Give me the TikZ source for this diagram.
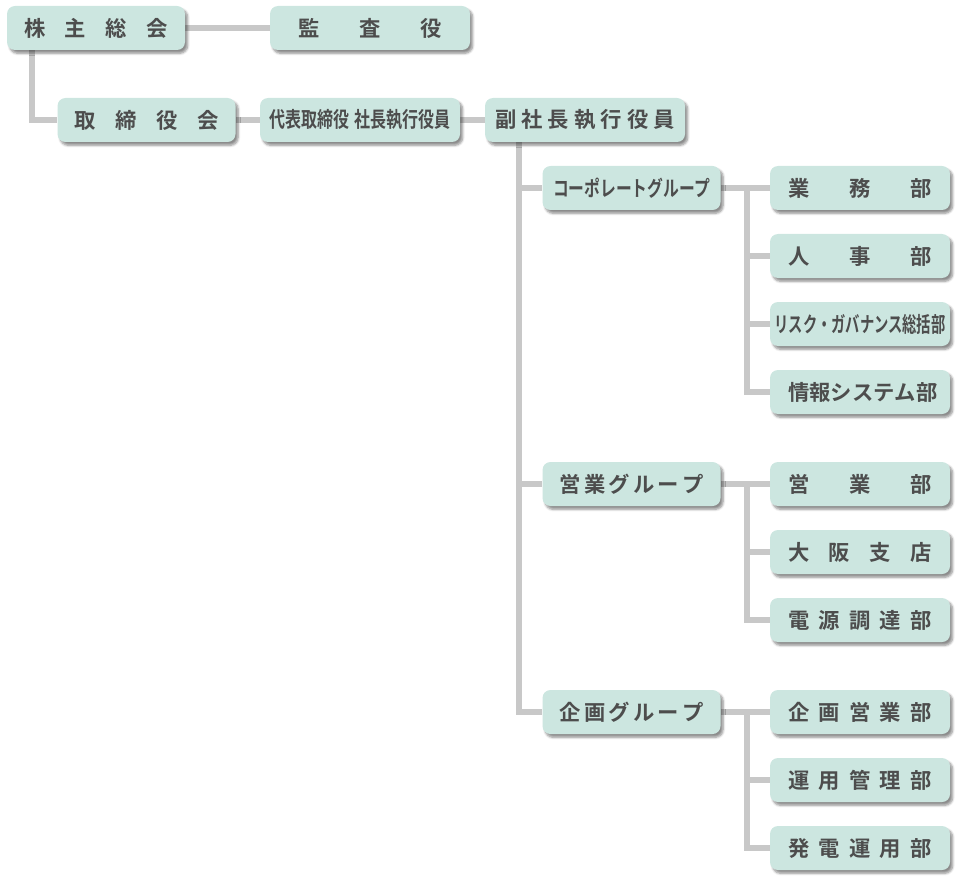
\documentclass[tikz,border=0pt]{standalone}
\usepackage{fontspec}
\usepackage{graphicx}
\usepackage{xcolor}
\usepackage{tikz}
\usetikzlibrary{positioning,calc,backgrounds,shadows.blur}
\newfontfamily\jp{Noto Sans CJK JP}[BoldFont={Noto Sans CJK JP Bold}]
\definecolor{caja}{RGB}{204,230,224}
\definecolor{linea}{RGB}{200,200,200}
\definecolor{texto}{RGB}{77,77,77}
% spread letters over a fixed width / condense long labels
\newcommand{\spread}[2][108pt]{\makebox[#1][s]{#2}}
\newcommand{\narrow}[2][0.8]{\scalebox{#1}[1]{#2}}

\begin{document}
\begin{tikzpicture}[
  x=0.75pt, y=-0.75pt,
  font=\jp\bfseries\fontsize{16}{19}\selectfont,
  caja/.style={fill=caja, text=texto, rounded corners=6pt,
               minimum width=133.5pt, minimum height=33pt, inner sep=0pt,
               blur shadow={shadow xshift=2pt, shadow yshift=-2.5pt,
                            shadow blur steps=6, shadow opacity=45}},
  ancha/.style={caja, minimum width=150pt},
  depto/.style={caja, minimum width=135pt},
  enlace/.style={draw=linea, line width=4.5pt},
]
\useasboundingbox (0,0) rectangle (968,888);
% ---- top ------------------------------------------------------------------
\node[caja]  (kabu)   at (96,28)   {\spread{株\hfil 主\hfil 総\hfil 会}};
\node[ancha] (kansa)  at (370,28)  {\spread{監\hfil 査\hfil 役}};
\node[caja]  (tori)   at (146.5,120) {\spread{取\hfil 締\hfil 役\hfil 会}};
\node[ancha] (daihyo) at (360,120)
  {\narrow[0.75]{代表取締役\hspace{5pt}社長執行役員}};
\node[ancha] (fuku)   at (585,120)
  {\spread[135pt]{副\hfil 社\hfil 長\hfil 執\hfil 行\hfil 役\hfil 員}};
% ---- groups ---------------------------------------------------------------
\node[caja] (corp)  at (631.5,188) {\narrow[0.74]{コーポレートグループ}};
\node[caja] (eigyo) at (631.5,484) {\spread{営\hfil 業\hfil グ\hfil ル\hfil ー\hfil プ}};
\node[caja] (kikak) at (631.5,712) {\spread{企\hfil 画\hfil グ\hfil ル\hfil ー\hfil プ}};
% ---- departments ----------------------------------------------------------
\foreach \n/\y/\t in {
    d1/188/{\spread{業\hfil 務\hfil 部}},
    d2/256/{\spread{人\hfil 事\hfil 部}},
    d3/324/{\narrow[0.67]{リスク・ガバナンス総括部}},
    d4/392/{\spread{情\hfil 報\hfil シ\hfil ス\hfil テ\hfil ム\hfil 部}},
    d5/484/{\spread{営\hfil 業\hfil 部}},
    d6/552/{\spread{大\hfil 阪\hfil 支\hfil 店}},
    d7/620/{\spread{電\hfil 源\hfil 調\hfil 達\hfil 部}},
    d8/712/{\spread{企\hfil 画\hfil 営\hfil 業\hfil 部}},
    d9/780/{\spread{運\hfil 用\hfil 管\hfil 理\hfil 部}},
    d10/848/{\spread{発\hfil 電\hfil 運\hfil 用\hfil 部}}} {
  \node[depto] (\n) at (860,\y) {\t};
}
% ---- connectors -----------------------------------------------------------
\begin{scope}[on background layer]
  \draw[enlace] (kabu) -- (kansa);
  \draw[enlace] ($(kabu.south west)+(25,0)$) |- (tori.west);
  \draw[enlace] (tori) -- (daihyo) -- (fuku);
  \foreach \g in {corp,eigyo,kikak}
    \draw[enlace] ($(fuku.south west)+(34,0)$) |- (\g.west);
  \foreach \d in {d1,d2,d3,d4}
    \draw[enlace] ($(corp.east)+(26,0)$) |- (\d.west);
  \draw[enlace] (corp) -- (d1);
  \foreach \d in {d5,d6,d7}
    \draw[enlace] ($(eigyo.east)+(26,0)$) |- (\d.west);
  \draw[enlace] (eigyo) -- (d5);
  \foreach \d in {d8,d9,d10}
    \draw[enlace] ($(kikak.east)+(26,0)$) |- (\d.west);
  \draw[enlace] (kikak) -- (d8);
\end{scope}
\end{tikzpicture}
\end{document}
